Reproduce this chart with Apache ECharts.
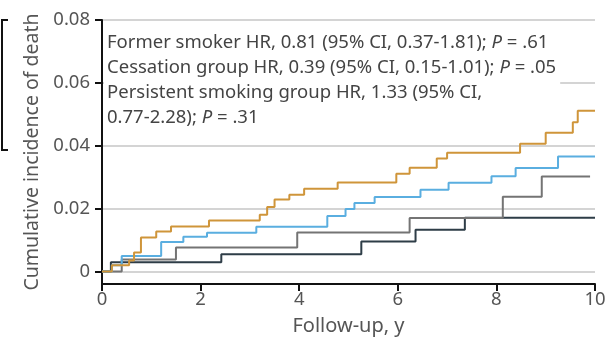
<!DOCTYPE html>
<html>
<head>
<meta charset="utf-8">
<script src="https://cdn.jsdelivr.net/npm/echarts@6/dist/echarts.min.js"></script>
<style>
html,body{margin:0;padding:0;background:#fff;}
#chart{width:611px;height:354px;}
</style>
</head>
<body>
<div id="chart"></div>
<script>
// ---- data ----
const xTicks = [0, 2, 4, 6, 8, 10];
const yTicks = [0, 0.02, 0.04, 0.06, 0.08];

const persistentT = [0, 0.2, 0.55, 0.65, 0.79, 1.1, 1.4, 2.17, 3.2, 3.35, 3.5, 3.8, 4.1, 4.78, 5.97, 6.24, 6.79, 7.0, 8.48, 9.0, 9.55, 9.65, 10];
const persistentV = [0, 0.002, 0.0035, 0.006, 0.0108, 0.0127, 0.0143, 0.0162, 0.018, 0.0205, 0.0229, 0.0244, 0.0263, 0.0283, 0.0311, 0.033, 0.0359, 0.0378, 0.0406, 0.0441, 0.0475, 0.0511, 0.0511];

const cessationT = [0, 0.2, 0.4, 1.2, 1.65, 2.13, 3.13, 4.57, 4.94, 5.12, 5.53, 6.46, 7.03, 7.9, 8.39, 9.25, 10];
const cessationV = [0, 0.002, 0.0049, 0.0094, 0.011, 0.0123, 0.0142, 0.0176, 0.0199, 0.0218, 0.0237, 0.026, 0.0282, 0.0303, 0.0329, 0.0366, 0.0366];

const formerT = [0, 0.4, 1.5, 3.96, 6.24, 8.13, 8.92, 9.9];
const formerV = [0, 0.0038, 0.0076, 0.0124, 0.017, 0.0238, 0.0302, 0.0302];

const neverT = [0, 0.18, 2.42, 5.26, 6.36, 7.36, 10];
const neverV = [0, 0.0029, 0.0055, 0.0095, 0.0133, 0.0171, 0.0171];

const annotationLines = [
  'Former smoker HR, 0.81 (95% CI, 0.37-1.81); {i|P} = .61',
  'Cessation group HR, 0.39 (95% CI, 0.15-1.01); {i|P} = .05',
  'Persistent smoking group HR, 1.33 (95% CI,',
  '0.77-2.28); {i|P} = .31'
];

const xName = 'Follow-up, y';
const yName = 'Cumulative incidence of death';

// ---- chart ----
function pairs(t, v) { return t.map((x, i) => [x, v[i]]); }

const FONT = 'Noto Sans';
const TXT = '#555';

const chart = echarts.init(document.getElementById('chart'), null, {renderer: 'canvas'});

function stepSeries(name, t, v, color, z) {
  return {
    name: name, type: 'line', step: 'end', data: pairs(t, v),
    symbol: 'none', z: z,
    lineStyle: {color: color, width: 2},
    emphasis: {disabled: true}
  };
}

chart.setOption({
  animation: false,
  grid: {left: 102, right: 16, top: 20, bottom: 70, containLabel: false},
  xAxis: {
    type: 'value', min: 0, max: 10, interval: 2,
    name: xName, nameLocation: 'middle', nameGap: 32,
    nameTextStyle: {fontFamily: FONT, fontSize: 20, color: TXT},
    axisLine: {show: true, onZero: false, lineStyle: {color: '#111', width: 2}},
    axisTick: {show: true, length: 7, lineStyle: {color: '#111', width: 2}},
    axisLabel: {fontFamily: FONT, fontSize: 18.5, color: TXT, margin: 6},
    splitLine: {show: false}
  },
  yAxis: {
    type: 'value', min: -0.004, max: 0.08,
    name: yName, nameLocation: 'middle', nameGap: 47, nameRotate: 90,
    nameTextStyle: {fontFamily: FONT, fontSize: 19.5, color: TXT},
    axisLine: {show: true, onZero: false, lineStyle: {color: '#111', width: 2}},
    axisTick: {show: true, length: 7, customValues: yTicks, lineStyle: {color: '#111', width: 2}},
    axisLabel: {
      fontFamily: FONT, fontSize: 18.5, color: TXT, margin: 12, customValues: yTicks,
      formatter: v => (Math.abs(v) < 1e-9 ? '0' : v.toFixed(2))
    },
    splitLine: {show: true, lineStyle: {color: '#d4d4d4', width: 2}}
  },
  series: [
    stepSeries('Never smoker', neverT, neverV, '#2e3d47', 3),
    stepSeries('Former smoker', formerT, formerV, '#747474', 4),
    stepSeries('Cessation group', cessationT, cessationV, '#5aaee0', 5),
    stepSeries('Persistent smoking group', persistentT, persistentV, '#cf953a', 6)
  ],
  graphic: [
    {
      type: 'text', left: 104, top: 30, z: 10,
      style: {
        text: annotationLines.join('\n'),
        font: '18.5px "' + FONT + '"',
        fill: '#444',
        lineHeight: 25,
        backgroundColor: '#fff',
        padding: [0, 4, 0, 3],
        rich: {i: {font: 'italic 18.5px "' + FONT + '"', fill: '#444', lineHeight: 25}}
      }
    },
    {
      type: 'polyline', z: 10,
      shape: {points: [[8, 20], [2, 20], [2, 150], [8, 150]]},
      style: {stroke: '#111', lineWidth: 2, fill: null}
    }
  ]
});
</script>
</body>
</html>
